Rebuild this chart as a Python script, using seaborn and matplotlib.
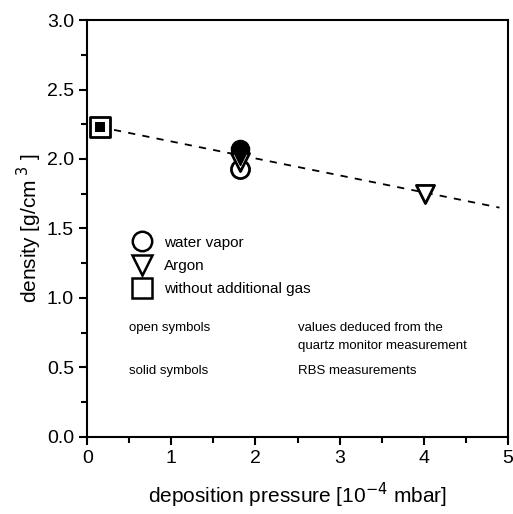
import numpy as np
import pandas as pd
import matplotlib
matplotlib.use("Agg")
import matplotlib.pyplot as plt
from matplotlib.lines import Line2D
from matplotlib.ticker import MultipleLocator
import seaborn as sns

# measured points
pressure = [0.15, 1.82, 1.82, 1.82, 1.82, 4.02]
density = [2.23, 2.07, 2.02, 1.98, 1.93, 1.75]
gas = ["none", "water vapor", "Argon", "Argon", "water vapor", "Argon"]
filled = [True, True, True, False, False, False]

# dashed fit line
fit_x = [0.15, 4.9]
fit_y = [2.23, 1.65]

sns.set_style("ticks", {"axes.edgecolor": "black", "xtick.color": "black",
                        "ytick.color": "black", "text.color": "black",
                        "axes.labelcolor": "black"})
plt.rcParams["font.family"] = ["Liberation Sans", "DejaVu Sans"]

df = pd.DataFrame({"p": pressure, "d": density, "gas": gas, "filled": filled})
markers = {"water vapor": "o", "Argon": "v", "none": "s"}

fig = plt.figure(figsize=(5.13, 5.14), dpi=100)
ax = fig.add_axes([0.170, 0.150, 0.820, 0.811])

sns.lineplot(x=fit_x, y=fit_y, ax=ax, color="black", linestyle=(0, (4, 4)),
             linewidth=1.3)

for g, m in markers.items():
    sub = df[(df.gas == g) & (~df.filled)]
    sns.scatterplot(data=sub, x="p", y="d", marker=m, s=170, facecolor="white",
                    edgecolor="black", linewidth=2, ax=ax, zorder=3)
    sub = df[(df.gas == g) & (df.filled)]
    if g == "none":
        sns.scatterplot(data=sub, x="p", y="d", marker="s", s=200,
                        facecolor="white", edgecolor="black", linewidth=2,
                        ax=ax, zorder=3)
        sns.scatterplot(data=sub, x="p", y="d", marker="s", s=60,
                        color="black", linewidth=0, ax=ax, zorder=4)
    else:
        sns.scatterplot(data=sub, x="p", y="d", marker=m, s=170, color="black",
                        edgecolor="black", linewidth=1, ax=ax, zorder=3)

handles = [Line2D([], [], marker=markers[k], linestyle="none", markersize=14,
                  markerfacecolor="white", markeredgecolor="black",
                  markeredgewidth=1.8) for k in ["water vapor", "Argon", "none"]]
ax.legend(handles, ["water vapor", "Argon", "without additional gas"],
          loc="upper left", bbox_to_anchor=(0.08, 0.497), frameon=False,
          fontsize=11, handletextpad=0.4, labelspacing=0.6,
          borderaxespad=0)

ax.text(0.10, 0.255, "open symbols", transform=ax.transAxes, fontsize=9.5)
ax.text(0.50, 0.255, "values deduced from the", transform=ax.transAxes,
        fontsize=9.5)
ax.text(0.50, 0.21, "quartz monitor measurement", transform=ax.transAxes,
        fontsize=9.5)
ax.text(0.10, 0.15, "solid symbols", transform=ax.transAxes, fontsize=9.5)
ax.text(0.50, 0.15, "RBS measurements", transform=ax.transAxes, fontsize=9.5)

ax.set_xlim(0, 5)
ax.set_ylim(0, 3)
ax.xaxis.set_major_locator(MultipleLocator(1))
ax.xaxis.set_minor_locator(MultipleLocator(0.5))
ax.yaxis.set_major_locator(MultipleLocator(0.5))
ax.yaxis.set_minor_locator(MultipleLocator(0.25))
ax.yaxis.set_major_formatter(matplotlib.ticker.FormatStrFormatter("%.1f"))
ax.tick_params(which="major", direction="out", length=6, width=1.5,
               labelsize=14, top=False, right=False)
ax.tick_params(which="minor", direction="out", length=4, width=1.5,
               top=False, right=False)
for s in ax.spines.values():
    s.set_linewidth(1.5)
    s.set_visible(True)

ax.set_xlabel("deposition pressure [10$^{-4}$ mbar]", fontsize=15, labelpad=10)
ax.set_ylabel("density [g/cm$^{\\ 3}$ ]", fontsize=15, labelpad=2)

fig.savefig("out.png", dpi=100)
